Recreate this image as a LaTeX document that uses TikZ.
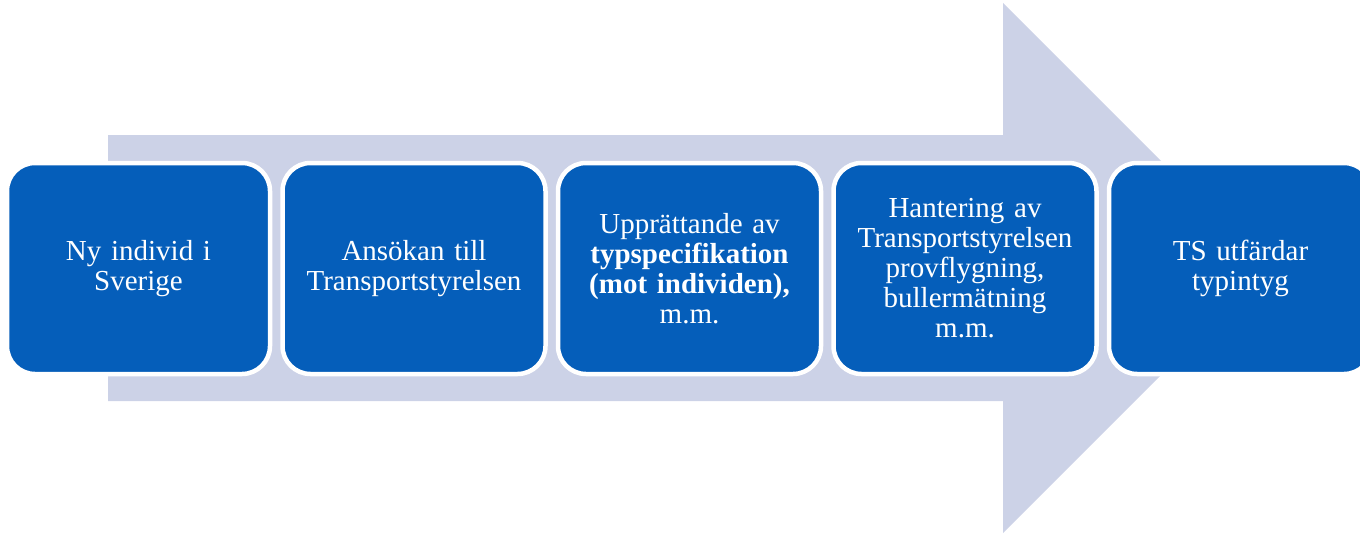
\documentclass[tikz,border=0pt]{standalone}
\usepackage{fontspec}
\setmainfont{Liberation Serif}
\usetikzlibrary{positioning}
\definecolor{boxblue}{RGB}{5,94,186}
\definecolor{arrowgrey}{RGB}{204,210,231}
\tikzset{stepbox/.style={draw=white, line width=4.5pt, fill=boxblue, rounded corners=28pt,
  minimum width=263pt, minimum height=211pt, text width=250pt, align=center, text=white,
  font=\fontsize{29}{30}\selectfont, inner sep=0pt}}

\begin{document}
\begin{tikzpicture}[x=1pt, y=-1pt]
  \useasboundingbox (0,0) rectangle (1360,535);
%% big arrow
  \fill[arrowgrey] (108,135) -- (1003,135) -- (1003,3) -- (1268,268)
    -- (1003,533) -- (1003,401) -- (108,401) -- cycle;
%% steps
  \node[stepbox] (ny) at (138.5,268.5) {Ny individ i\\Sverige};
  \node[stepbox] (ansokan) at (414,268.5) {Ansökan till\\Transportstyrelsen};
  \node[stepbox] (typspec) at (689.5,268.5) {Upprättande av\\\textbf{typspecifikation}\\\textbf{(mot individen),}\\m.m.};
  \node[stepbox] (hantering) at (965,268.5) {Hantering av\\Transportstyrelsen\\provflygning,\\bullermätning\\m.m.};
  \node[stepbox] (utfardar) at (1240.5,268.5) {TS utfärdar\\typintyg};
\end{tikzpicture}
\end{document}
